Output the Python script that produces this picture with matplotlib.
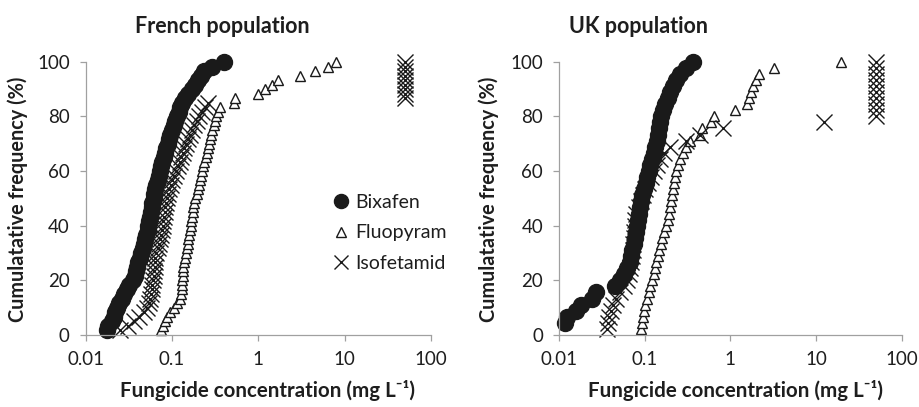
import matplotlib
matplotlib.use('Agg')
import matplotlib.pyplot as plt

plt.rcParams['font.family'] = ['Lato', 'DejaVu Sans']

TEXT = '#1e1e1e'
AXIS = '#a0a0a0'
MARK = '#1a1a1a'

X_TICKS = [0.01, 0.1, 1, 10, 100]
X_TICK_LABELS = ['0.01', '0.1', '1', '10', '100']
Y_TICKS = [0, 20, 40, 60, 80, 100]
SERIES = ['Bixafen', 'Fluopyram', 'Isofetamid']

# Cumulative frequency (%) of isolates, French population (60 isolates)
FR_FREQ = [
    1.7, 3.3, 5.0, 6.7, 8.3, 10.0, 11.7, 13.3, 15.0, 16.7,
    18.3, 20.0, 21.7, 23.3, 25.0, 26.7, 28.3, 30.0, 31.7, 33.3,
    35.0, 36.7, 38.3, 40.0, 41.7, 43.3, 45.0, 46.7, 48.3, 50.0,
    51.7, 53.3, 55.0, 56.7, 58.3, 60.0, 61.7, 63.3, 65.0, 66.7,
    68.3, 70.0, 71.7, 73.3, 75.0, 76.7, 78.3, 80.0, 81.7, 83.3,
    85.0, 86.7, 88.3, 90.0, 91.7, 93.3, 95.0, 96.7, 98.3, 100.0,
]
# EC50 values (mg/L), sorted
FR_BIXAFEN = [
    0.0175, 0.018, 0.020, 0.021, 0.022, 0.023, 0.024, 0.026, 0.028, 0.030,
    0.032, 0.035, 0.037, 0.038, 0.039, 0.040, 0.042, 0.044, 0.046, 0.047,
    0.048, 0.050, 0.052, 0.053, 0.054, 0.056, 0.057, 0.058, 0.059, 0.061,
    0.062, 0.064, 0.066, 0.069, 0.071, 0.073, 0.075, 0.077, 0.080, 0.083,
    0.086, 0.089, 0.092, 0.095, 0.099, 0.104, 0.109, 0.114, 0.119, 0.124,
    0.130, 0.142, 0.155, 0.168, 0.185, 0.200, 0.215, 0.235, 0.29, 0.40,
]
FR_FLUOPYRAM = [
    0.075, 0.078, 0.083, 0.087, 0.095, 0.105, 0.115, 0.122, 0.128, 0.130,
    0.131, 0.132, 0.133, 0.134, 0.135, 0.138, 0.141, 0.145, 0.149, 0.152,
    0.155, 0.158, 0.161, 0.164, 0.167, 0.169, 0.173, 0.177, 0.181, 0.186,
    0.192, 0.198, 0.204, 0.210, 0.216, 0.223, 0.230, 0.237, 0.244, 0.252,
    0.260, 0.268, 0.276, 0.285, 0.294, 0.303, 0.313, 0.325, 0.337, 0.355,
    0.52, 0.53, 1.0, 1.2, 1.45, 1.7, 3.0, 4.5, 6.4, 7.9,
]
FR_ISOFETAMID = [
    0.025, 0.031, 0.036, 0.041, 0.047, 0.051, 0.054, 0.056, 0.057, 0.058,
    0.059, 0.060, 0.061, 0.062, 0.063, 0.063, 0.064, 0.066, 0.068, 0.070,
    0.072, 0.075, 0.077, 0.078, 0.079, 0.080, 0.082, 0.083, 0.085, 0.087,
    0.089, 0.092, 0.096, 0.100, 0.105, 0.112, 0.117, 0.122, 0.128, 0.133,
    0.139, 0.145, 0.152, 0.160, 0.168, 0.178, 0.192, 0.207, 0.222, 0.240,
    0.260, 50, 50, 50, 50, 50, 50, 50, 50, 50,
]

# UK population (45 isolates)
UK_FREQ = [
    2.2, 4.4, 6.7, 8.9, 11.1, 13.3, 15.6, 17.8, 20.0, 22.2,
    24.4, 26.7, 28.9, 31.1, 33.3, 35.6, 37.8, 40.0, 42.2, 44.4,
    46.7, 48.9, 51.1, 53.3, 55.6, 57.8, 60.0, 62.2, 64.4, 66.7,
    68.9, 71.1, 73.3, 75.6, 77.8, 80.0, 82.2, 84.4, 86.7, 88.9,
    91.1, 93.3, 95.6, 97.8, 100.0,
]
UK_BIXAFEN = [  # one isolate fewer, starts at the 2nd rank
    0.0118, 0.0125, 0.016, 0.018, 0.024, 0.027, 0.045, 0.052, 0.058, 0.063,
    0.067, 0.069, 0.072, 0.075, 0.077, 0.080, 0.082, 0.084, 0.086, 0.088,
    0.090, 0.093, 0.097, 0.103, 0.107, 0.111, 0.116, 0.121, 0.127, 0.133,
    0.138, 0.143, 0.148, 0.152, 0.157, 0.163, 0.172, 0.185, 0.198, 0.215,
    0.235, 0.26, 0.30, 0.37,
]
UK_FLUOPYRAM = [
    0.090, 0.093, 0.095, 0.098, 0.102, 0.106, 0.111, 0.115, 0.121, 0.127,
    0.132, 0.137, 0.142, 0.148, 0.155, 0.160, 0.170, 0.177, 0.185, 0.192,
    0.198, 0.204, 0.210, 0.216, 0.222, 0.228, 0.234, 0.242, 0.260, 0.280,
    0.300, 0.34, 0.44, 0.47, 0.60, 0.64, 1.13, 1.55, 1.65, 1.75,
    1.85, 2.0, 2.15, 3.2, 19.5,
]
UK_ISOFETAMID = [
    0.036, 0.037, 0.038, 0.040, 0.043, 0.046, 0.051, 0.058, 0.063, 0.065,
    0.067, 0.069, 0.071, 0.073, 0.074, 0.075, 0.076, 0.077, 0.078, 0.079,
    0.085, 0.090, 0.095, 0.100, 0.110, 0.120, 0.130, 0.140, 0.150, 0.167,
    0.20, 0.30, 0.44, 0.83, 12.3, 50, 50, 50, 50, 50,
    50, 50, 50, 50, 50,
]


def style_axes(ax):
    ax.set_xscale('log')
    ax.set_xlim(0.01, 100)
    ax.set_ylim(0, 100)
    ax.set_xticks(X_TICKS)
    ax.set_xticklabels(X_TICK_LABELS)
    ax.set_yticks(Y_TICKS)
    ax.minorticks_off()
    for s in ['top', 'right']:
        ax.spines[s].set_visible(False)
    for s in ['left', 'bottom']:
        ax.spines[s].set_color(AXIS)
        ax.spines[s].set_linewidth(0.9)
    ax.tick_params(axis='both', direction='out', length=4.5, width=0.9,
                   color=AXIS, labelcolor=TEXT, labelsize=13.5, pad=7)


def draw_panel(ax, bix, bix_freq, flu, flu_freq, iso, iso_freq):
    ax.plot(bix, bix_freq, 'o', ms=11.5, color=MARK, mec=MARK,
            clip_on=False, label=SERIES[0])
    ax.plot(flu, flu_freq, '^', ms=7.5, mfc='white', mec=MARK, mew=1.0,
            clip_on=False, label=SERIES[1])
    ax.plot(iso, iso_freq, 'x', ms=11, mec=MARK, mew=1.0,
            clip_on=False, label=SERIES[2])
    style_axes(ax)


fig = plt.figure(figsize=(9.2, 4.07), dpi=100)
ax1 = fig.add_axes([0.0932, 0.177, 0.3753, 0.671])
ax2 = fig.add_axes([0.6076, 0.177, 0.3725, 0.671])

draw_panel(ax1, FR_BIXAFEN, FR_FREQ, FR_FLUOPYRAM, FR_FREQ,
           FR_ISOFETAMID, FR_FREQ)
draw_panel(ax2, UK_BIXAFEN, UK_FREQ[1:], UK_FLUOPYRAM, UK_FREQ,
           UK_ISOFETAMID, UK_FREQ)

leg = ax1.legend(loc='center left', bbox_to_anchor=(0.718, 0.374),
                 frameon=False, fontsize=14, handlelength=0.8,
                 handletextpad=0.3, labelspacing=0.7, borderpad=0,
                 borderaxespad=0, markerscale=0.88)
for t in leg.get_texts():
    t.set_color(TEXT)

title_kw = dict(fontsize=15.5, fontweight='bold', color=TEXT, ha='center', va='center')
fig.text(0.2413, 0.936, 'French population', **title_kw)
fig.text(0.6935, 0.936, 'UK population', **title_kw)

ylab_kw = dict(fontsize=14.3, fontweight='bold', color=TEXT, ha='center', va='center')
ylab = 'Cumulatative frequency (%)'
fig.text(0.0196, 0.511, ylab, rotation=90, **ylab_kw)
fig.text(0.5315, 0.511, ylab, rotation=90, **ylab_kw)

xlab = 'Fungicide concentration (mg L\u207b\u00b9)'
xlab_kw = dict(fontsize=14.8, fontweight='bold', color=TEXT, ha='center', va='baseline')
fig.text(0.2913, 0.024, xlab, **xlab_kw)
fig.text(0.799, 0.024, xlab, **xlab_kw)

fig.savefig('out.png', dpi=100)
